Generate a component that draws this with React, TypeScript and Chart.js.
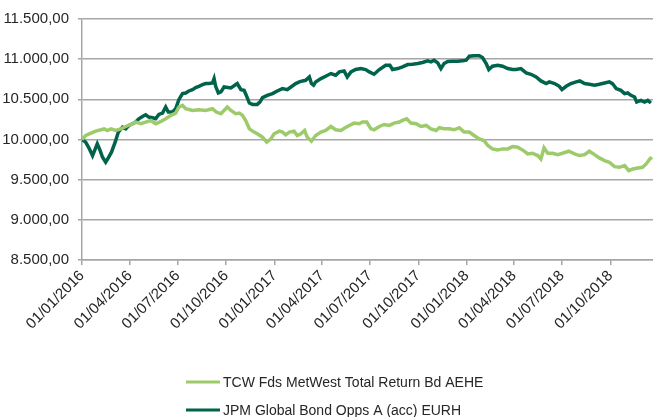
import React, { useEffect, useRef } from "react";
import { Chart, registerables } from "chart.js";

Chart.register(...registerables);

// x values: days since 01/01/2016
const jpmDays = [0,7,13,20,26,29,34,39,45,50,56,63,69,77,83,89,96,102,108,115,121,127,134,140,146,153,159,164,172,178,184,191,197,203,210,216,222,229,235,241,248,251,254,259,264,270,283,295,302,308,313,318,324,333,338,343,352,362,371,381,390,397,406,413,419,425,432,436,440,444,454,463,473,482,489,498,504,511,520,530,539,546,555,565,577,585,590,600,609,619,628,638,647,657,663,669,676,682,688,695,704,714,723,730,736,745,755,761,768,773,780,790,799,809,818,825,834,844,853,863,872,882,888,898,907,912,920,929,939,946,955,964,974,983,993,1002,1008,1015,1024,1031,1037,1043,1050,1054,1062,1069,1075,1081];
const jpmValues = [10000,9967,9896,9800,9896,9946,9871,9779,9717,9771,9842,9967,10092,10154,10133,10175,10196,10217,10258,10287,10308,10279,10271,10258,10312,10329,10404,10342,10342,10383,10496,10571,10579,10604,10621,10646,10662,10683,10696,10696,10704,10758,10662,10579,10592,10654,10642,10696,10621,10612,10537,10454,10437,10437,10466,10521,10550,10571,10604,10633,10621,10654,10696,10717,10729,10737,10779,10696,10675,10717,10758,10787,10821,10800,10842,10854,10779,10842,10871,10883,10871,10842,10812,10871,10925,10925,10871,10883,10904,10933,10937,10946,10958,10979,10967,10987,10954,10883,10946,10971,10975,10975,10979,10987,11037,11042,11042,11021,10946,10871,10912,10925,10912,10883,10871,10871,10883,10829,10812,10779,10729,10696,10717,10696,10662,10621,10662,10696,10717,10729,10696,10687,10675,10687,10704,10717,10696,10633,10612,10571,10579,10550,10529,10466,10487,10466,10487,10454];

const tcwDays = [0,7,17,26,36,42,48,55,64,74,83,93,102,112,121,131,140,150,159,169,178,184,191,197,210,222,235,248,255,264,273,276,283,292,299,305,311,318,327,333,343,351,359,365,375,381,387,394,403,409,416,423,428,436,444,454,463,473,482,492,500,508,517,527,533,541,549,555,565,574,584,593,603,609,617,625,635,644,654,663,673,679,688,698,707,717,726,736,745,755,764,771,780,790,799,809,818,828,839,847,856,866,872,878,885,894,904,913,925,936,945,955,964,974,983,993,1002,1012,1021,1031,1039,1047,1056,1065,1072,1079,1083];
const tcwValues = [10000,10050,10079,10104,10121,10133,10112,10133,10112,10133,10162,10187,10217,10196,10217,10237,10196,10225,10258,10300,10329,10404,10425,10383,10362,10371,10362,10383,10342,10321,10383,10404,10362,10321,10329,10300,10237,10133,10092,10071,10029,9967,10008,10071,10104,10092,10058,10092,10104,10050,10071,10112,10029,9979,10050,10092,10112,10162,10121,10112,10146,10175,10204,10196,10217,10217,10133,10121,10162,10187,10175,10204,10217,10237,10258,10204,10196,10162,10175,10133,10112,10146,10133,10133,10121,10146,10092,10092,10050,10008,9987,9925,9883,9871,9883,9883,9912,9904,9862,9821,9829,9800,9758,9896,9829,9829,9812,9829,9854,9821,9800,9812,9854,9812,9771,9737,9717,9662,9654,9675,9612,9633,9646,9654,9696,9758,9779];

const seriesNames = [
  "TCW Fds MetWest Total Return Bd AEHE",
  "JPM Global Bond Opps A (acc) EURH",
];

const xTickLabels = [
  "01/01/2016","01/04/2016","01/07/2016","01/10/2016",
  "01/01/2017","01/04/2017","01/07/2017","01/10/2017",
  "01/01/2018","01/04/2018","01/07/2018","01/10/2018",
];

const yMin = 8500;
const yMax = 11500;
const yStep = 500;
const xMaxDays = 1085;

const FONT = "'Liberation Sans', Arial, sans-serif";
const TEXT = "#262626";
const GRID = "#a6a6a6";
const LIGHT = "#9dcb6b";
const DARK = "#00634b";

const dayOf = (s: string) => {
  const [d, m, y] = s.split("/").map(Number);
  return Math.round((Date.UTC(y, m - 1, d) - Date.UTC(2016, 0, 1)) / 86400000);
};
const xTickDays = xTickLabels.map(dayOf);

const fmt = (v: number) => {
  const s = v.toFixed(2).replace(".", ",");
  const [int, dec] = s.split(",");
  return int.replace(/\B(?=(\d{3})+(?!\d))/g, ".") + "," + dec;
};

const stackedLegend = {
  id: "stackedLegend",
  afterDraw(chart: any) {
    const ctx = chart.ctx;
    ctx.save();
    ctx.font = `14px ${FONT}`;
    ctx.textBaseline = "middle";
    ctx.textAlign = "left";
    chart.data.datasets.forEach((ds: any, i: number) => {
      const y = 382 + i * 28;
      ctx.strokeStyle = ds.borderColor;
      ctx.lineWidth = 3;
      ctx.beginPath();
      ctx.moveTo(186, y);
      ctx.lineTo(220, y);
      ctx.stroke();
      ctx.fillStyle = TEXT;
      ctx.fillText(ds.label, 223, y + 1);
    });
    ctx.restore();
  },
};

export default function App() {
  const ref = useRef<HTMLCanvasElement | null>(null);
  useEffect(() => {
    if (!ref.current) return;
    const chart = new Chart(ref.current, {
      type: "line",
      data: {
        datasets: [
          {
            label: seriesNames[0],
            data: tcwDays.map((d, i) => ({ x: d, y: tcwValues[i] })),
            borderColor: LIGHT,
            backgroundColor: LIGHT,
            borderWidth: 3.5,
            pointRadius: 0,
            tension: 0,
          },
          {
            label: seriesNames[1],
            data: jpmDays.map((d, i) => ({ x: d, y: jpmValues[i] })),
            borderColor: DARK,
            backgroundColor: DARK,
            borderWidth: 3.5,
            pointRadius: 0,
            tension: 0,
          },
        ],
      },
      options: {
        animation: false,
        responsive: false,
        maintainAspectRatio: false,
        layout: { padding: { top: 19, right: 0, left: 0, bottom: 60 } },
        plugins: {
          legend: { display: false },
          tooltip: { enabled: false },
        },
        scales: {
          x: {
            type: "linear",
            min: 0,
            max: xMaxDays,
            afterBuildTicks: (scale: any) => {
              scale.ticks = xTickDays.map((v) => ({ value: v }));
            },
            afterFit: (scale: any) => {
              scale.height = 417 - 60 - 260;
            },
            ticks: {
              autoSkip: false,
              maxRotation: 45,
              minRotation: 45,
              padding: 2,
              color: TEXT,
              font: { family: FONT, size: 15 },
              callback: (_v: any, i: number) => xTickLabels[i],
            },
            grid: {
              drawOnChartArea: false,
              drawTicks: true,
              tickLength: 5,
              color: GRID,
              lineWidth: 1.5,
            },
            border: { display: true, color: GRID, width: 1.5 },
          },
          y: {
            min: yMin,
            max: yMax,
            afterFit: (scale: any) => {
              scale.width = 82;
            },
            ticks: {
              stepSize: yStep,
              padding: 9,
              color: TEXT,
              font: { family: FONT, size: 15 },
              callback: (v: any) => fmt(Number(v)),
            },
            grid: {
              color: GRID,
              lineWidth: 1.5,
              tickLength: 4,
            },
            border: { display: true, color: GRID, width: 1.5 },
          },
        },
      },
      plugins: [stackedLegend],
    });
    return () => chart.destroy();
  }, []);
  return (
    <div style={{ position: "fixed", left: 0, top: 0, width: 653, height: 417, background: "#fff" }}>
      <canvas ref={ref} width={653} height={417} style={{ width: 653, height: 417 }} />
    </div>
  );
}
